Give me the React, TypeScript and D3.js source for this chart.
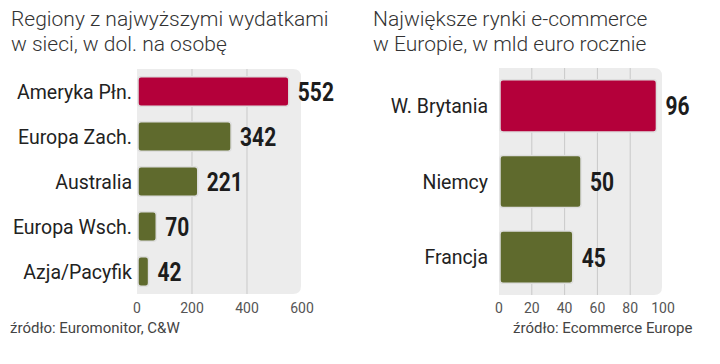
import React, { useEffect, useRef } from 'react';
import * as d3 from 'd3';

// left chart: online spending per person
const regions = ['Ameryka Płn.', 'Europa Zach.', 'Australia', 'Europa Wsch.', 'Azja/Pacyfik'];
const spending = [552, 342, 221, 70, 42];
const leftTicks = [0, 200, 400, 600];

// right chart: biggest e-commerce markets
const markets = ['W. Brytania', 'Niemcy', 'Francja'];
const marketValues = [96, 50, 45];
const rightTicks = [0, 20, 40, 60, 80, 100];

const RED = '#b4003a';
const OLIVE = '#5f6a2d';
const LABEL_FONT = 'Roboto, "Open Sans", sans-serif';
const VALUE_FONT = 'Roboto, "DejaVu Sans Condensed", sans-serif';

interface PanelOpts {
  title: string[];
  titleX: number;
  cats: string[];
  values: number[];
  ticks: number[];
  x0: number;
  x1: number;
  y0: number;
  y1: number;
  padInner: number;
  labelGap: number;
  source: string;
  sourceX: number;
}

const drawPanel = (root: d3.Selection<SVGGElement, unknown, null, undefined>, o: PanelOpts) => {
  const max = o.ticks[o.ticks.length - 1];
  const x = d3.scaleLinear().domain([0, max]).range([o.x0, o.x1]);
  const y = d3.scaleBand<string>().domain(o.cats).range([o.y0, o.y1]).paddingInner(o.padInner).paddingOuter(o.padInner / 2);

  // title
  root
    .append('text')
    .attr('font-family', LABEL_FONT)
    .attr('font-weight', 300)
    .attr('font-size', 21)
    .attr('fill', '#333')
    .selectAll('tspan')
    .data(o.title)
    .join('tspan')
    .attr('x', o.titleX)
    .attr('y', (_, i) => 26 + i * 25)
    .text((d) => d);

  // grey plot panel
  const r = 8;
  const px0 = x(0);
  const px1 = x(max) - 1;
  const path = d3.path();
  path.moveTo(px0, o.y0);
  path.lineTo(px1 - r, o.y0);
  path.quadraticCurveTo(px1, o.y0, px1, o.y0 + r);
  path.lineTo(px1, o.y1 - r);
  path.quadraticCurveTo(px1, o.y1, px1 - r, o.y1);
  path.lineTo(px0, o.y1);
  path.closePath();
  root.append('path').attr('d', path.toString()).attr('fill', '#ececec');

  root
    .selectAll('line.grid')
    .data(o.ticks.slice(1, -1))
    .join('line')
    .attr('x1', (d) => x(d))
    .attr('x2', (d) => x(d))
    .attr('y1', o.y0)
    .attr('y2', o.y1)
    .attr('stroke', '#c9c9c9')
    .attr('stroke-width', 1);

  // bars
  root
    .selectAll('rect.bar')
    .data(o.values)
    .join('rect')
    .attr('x', x(0) + 1)
    .attr('y', (_, i) => y(o.cats[i])!)
    .attr('width', (d) => x(d) - x(0) - 1)
    .attr('height', y.bandwidth())
    .attr('rx', 3)
    .attr('fill', (_, i) => (i === 0 ? RED : OLIVE))
    .attr('stroke', '#dedede')
    .attr('stroke-width', 1.5);

  // category labels
  root
    .selectAll('text.cat')
    .data(o.cats)
    .join('text')
    .attr('x', x(0) - o.labelGap)
    .attr('y', (d) => y(d)! + y.bandwidth() / 2)
    .attr('dy', '0.36em')
    .attr('text-anchor', 'end')
    .attr('font-family', LABEL_FONT)
    .attr('font-size', 19.5)
    .attr('fill', '#222')
    .text((d) => d);

  // value labels, bold and squeezed horizontally
  root
    .selectAll('text.val')
    .data(o.values)
    .join('text')
    .attr('transform', (d, i) => `translate(${x(d) + 9},${y(o.cats[i])! + y.bandwidth() / 2}) scale(0.84,1)`)
    .attr('dy', '0.38em')
    .attr('font-family', VALUE_FONT)
    .attr('font-weight', 'bold')
    .attr('font-size', 25)
    .attr('fill', '#1c1c1c')
    .text((d) => d);

  // tick labels
  root
    .selectAll('text.tick')
    .data(o.ticks)
    .join('text')
    .attr('x', (d) => x(d))
    .attr('y', 313)
    .attr('text-anchor', 'middle')
    .attr('font-family', LABEL_FONT)
    .attr('font-size', 14)
    .attr('fill', '#555')
    .text((d) => d);

  root
    .append('text')
    .attr('x', o.sourceX)
    .attr('y', 333)
    .attr('font-family', LABEL_FONT)
    .attr('font-size', 15)
    .attr('fill', '#444')
    .text(o.source);
};

const App: React.FC = () => {
  const ref = useRef<SVGSVGElement | null>(null);

  useEffect(() => {
    if (!ref.current) return;
    const svg = d3.select(ref.current);
    svg.selectAll('*').remove();
    svg.append('rect').attr('width', 720).attr('height', 364).attr('fill', '#fff');

    drawPanel(svg.append('g'), {
      title: ['Regiony z najwyższymi wydatkami', 'w sieci, w dol. na osobę'],
      titleX: 11,
      cats: regions,
      values: spending,
      ticks: leftTicks,
      x0: 137,
      x1: 302,
      y0: 69,
      y1: 294,
      padInner: 0.34,
      labelGap: 5,
      source: 'źródło: Euromonitor, C&W',
      sourceX: 10,
    });

    drawPanel(svg.append('g'), {
      title: ['Największe rynki e-commerce', 'w Europie, w mld euro rocznie'],
      titleX: 373,
      cats: markets,
      values: marketValues,
      ticks: rightTicks,
      x0: 499,
      x1: 663,
      y0: 68,
      y1: 295,
      padInner: 0.31,
      labelGap: 11,
      source: 'źródło: Ecommerce Europe',
      sourceX: 513,
    });
  }, []);

  return <svg ref={ref} width={720} height={364} style={{ position: 'absolute', left: 0, top: 0 }} />;
};

export default App;
